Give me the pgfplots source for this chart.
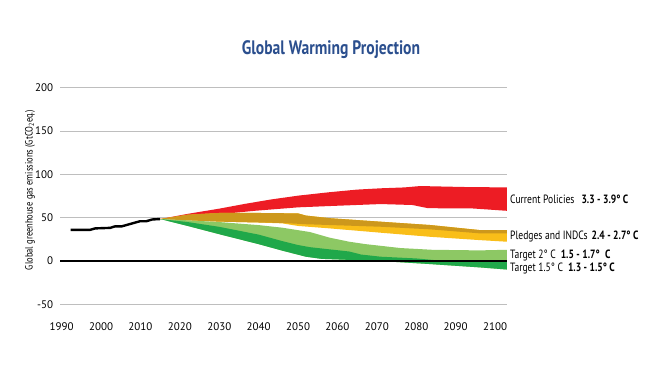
\documentclass[border=0pt]{standalone}
\usepackage{fontspec}
\setmainfont{PT Sans}
\newfontfamily\cond[FakeStretch=0.8]{PT Sans}
\usepackage{pgfplots}
\pgfplotsset{compat=1.18}
\definecolor{cpred}{RGB}{237,28,36}
\definecolor{dgold}{RGB}{205,152,28}
\definecolor{yell}{RGB}{249,190,25}
\definecolor{lgreen}{RGB}{141,200,100}
\definecolor{dgreen}{RGB}{32,168,74}
\definecolor{titleblue}{RGB}{43,79,142}
\definecolor{gridgray}{RGB}{190,190,190}
\begin{document}
\begin{tikzpicture}
\path[use as bounding box] (0pt,0pt) rectangle (664pt,373pt);
\begin{axis}[
  at={(60.1pt,60pt)}, anchor=south west, scale only axis,
  width=446.8pt, height=229.5pt,
  xmin=1989.6, xmax=2103, ymin=-60, ymax=205,
  axis line style={draw=none}, major tick length=0,
  xtick={1990,2000,...,2100}, ytick={-50,0,...,200},
  ymajorgrids, grid style={gridgray, line width=1pt},
  /pgf/number format/assume math mode=true,
  xticklabel style={font=\fontsize{11}{12}\selectfont, yshift=-6pt, /pgf/number format/1000 sep={}},
  yticklabel style={font=\fontsize{11}{12}\selectfont, xshift=-3.5pt},
]
% Current policies (upper forward, lower backward)
\addplot[fill=cpred, draw=none] coordinates {(2015,48.5)(2022,54.5)(2030,60.5)(2036.5,66)(2043,71)(2050,75.5)(2058,79.5)(2065,82.5)(2071,84)(2077,85)(2081,86.6)(2092,85.5)(2103,85)
 (2103,58)(2094,60.8)(2083,61)(2079,64.7)(2071,65.8)(2058,63.5)(2050,62)(2039,58)(2030,54)(2022,50.5)(2015,48.5)};
% Pledges: yellow full band
\addplot[fill=yell, draw=none] coordinates {(2015,48.5)(2022,53.5)(2030,55.5)(2040,55.5)(2050,55)(2052,52.5)(2058,49.5)(2071,45.4)(2083.5,41.6)(2096,35.8)(2103,35.8)
 (2103,22.3)(2096,24.2)(2083.5,28)(2071,32.7)(2058,37.7)(2050,40.5)(2046,43.5)(2040,44.5)(2030,45.5)(2022,47)(2015,48.5)};
% Pledges: dark gold upper part
\addplot[fill=dgold, draw=none] coordinates {(2015,48.5)(2022,53.5)(2030,55.5)(2040,55.5)(2050,55)(2052,52.5)(2058,49.5)(2071,45.4)(2083.5,41.6)(2096,35.8)(2103,35.8)
 (2103,32)(2096,32)(2083.5,36.6)(2071,39.6)(2058,41.6)(2052,42.5)(2046,44)(2040,44.5)(2030,45.5)(2022,47)(2015,48.5)};
% Target 2 C: light green
\addplot[fill=lgreen, draw=none] coordinates {(2015,48.5)(2022,47)(2030,45)(2040,41.5)(2046,38.5)(2053,33.5)(2058,27)(2063,22.3)(2067,19.6)(2076,15)(2084,13)(2096,12.3)(2103,13)
 (2103,-9.8)(2096,-7.3)(2083.5,-3.5)(2071,0)(2062,1.5)(2056,2.5)(2052,5)(2046,12)(2040,19.5)(2030,31)(2022,40.5)(2015,48.5)};
% Target 1.5 C: dark green
\addplot[fill=dgreen, draw=none] coordinates {(2015,48.5)(2022,45)(2030,39.5)(2040,30.5)(2046,23)(2050,18.5)(2053,16)(2058,13.5)(2063,11)(2066,7.5)(2071,5)(2080,3)(2086,0.5)(2103,0.5)
 (2103,-9.8)(2096,-7.3)(2083.5,-3.5)(2071,0)(2062,1.5)(2056,2.5)(2052,5)(2046,12)(2040,19.5)(2030,31)(2022,40.5)(2015,48.5)};
% zero line
\addplot[black, line width=1.6pt] coordinates {(1989.6,0)(2103,0)};
% history
\addplot[black, line width=2.4pt, line join=round] coordinates {(1992.3,36)(1997.2,36)(1998.5,37.7)(2002.3,38.3)(2003.5,40)(2005.2,40)(2009.9,46)(2011.5,46)(2013,48)(2015,48.5)};
\end{axis}
\node[font=\cond\bfseries\fontsize{19.5}{22}\selectfont, text=titleblue] at (331pt,323pt) {Global Warming Projection};
\node[rotate=90, font=\cond\fontsize{10.6}{12}\selectfont] at (30pt,183pt) {Global greenhouse gas emissions (GtCO\textsubscript{2}eq.)};
\node[anchor=west, inner sep=0pt, font=\cond\fontsize{12}{14}\selectfont] at (510pt,174pt) {Current Policies\hspace{7pt}\textbf{3.3 - 3.9° C}};
\node[anchor=west, inner sep=0pt, font=\cond\fontsize{12}{14}\selectfont] at (510pt,137pt) {Pledges and INDCs\hspace{4pt}\textbf{2.4 - 2.7° C}};
\node[anchor=west, inner sep=0pt, font=\cond\fontsize{12}{14}\selectfont] at (510pt,117.4pt) {Target 2° C\hspace{5pt}\textbf{1.5 - 1.7°\hspace{3pt} C}};
\node[anchor=west, inner sep=0pt, font=\cond\fontsize{12}{14}\selectfont] at (510pt,104.6pt) {Target 1.5° C\hspace{5pt}\textbf{1.3 - 1.5° C}};
\end{tikzpicture}
\end{document}
